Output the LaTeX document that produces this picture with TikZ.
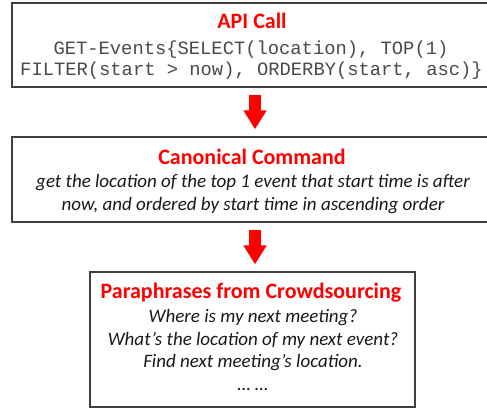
\documentclass[tikz,border=0pt]{standalone}
\usepackage{fontspec}
\setmainfont{Carlito}
\newfontfamily\codefont{Liberation Mono}
\usetikzlibrary{arrows.meta}

\definecolor{boxline}{HTML}{404040}
\definecolor{codegray}{HTML}{4A4A4A}

\tikzset{
  panel/.style={draw=boxline, line width=1.3pt, fill=white, inner sep=0pt},
  heading/.style={anchor=base, text=red, font=\fontsize{22}{25}\selectfont\bfseries, inner sep=0pt},
  codeline/.style={anchor=base, text=codegray, font=\codefont\fontsize{18.8}{22}\selectfont, inner sep=0pt},
  textline/.style={anchor=base, text=black!90, font=\fontsize{19}{22}\selectfont\itshape, inner sep=0pt},
  blockarrow/.style={draw=red, line width=12pt, -{Triangle[width=22pt,length=19pt]}}
}

\begin{document}
\begin{tikzpicture}[x=1pt,y=-1pt]
  \useasboundingbox (0,0) rectangle (487,408);

  % three stacked panels
  \node[panel, minimum width=476pt, minimum height=84pt] (b1) at (250,45) {};
  \node[panel, minimum width=476pt, minimum height=85pt] (b2) at (250,179.5) {};
  \node[panel, minimum width=325pt, minimum height=135pt] (b3) at (252.5,339.5) {};

  % API call
  \node[heading] (t1) at (252,28) {API Call};
  \node[codeline] (c1) at (251,54) {GET-Events\{SELECT(location), TOP(1)};
  \node[codeline] (c2) at (251.5,75) {FILTER(start > now), ORDERBY(start, asc)\}};

  % canonical command
  \node[heading] (t2) at (252,164) {Canonical Command};
  \node[textline] (l21) at (253,187) {get the location of the top 1 event that start time is after};
  \node[textline] (l22) at (253,210) {now, and ordered by start time in ascending order};

  % paraphrases
  \node[heading] (t3) at (251,298) {Paraphrases from Crowdsourcing};
  \node[textline] (l31) at (253,322) {Where is my next meeting?};
  \node[textline] (l32) at (253,345) {What’s the location of my next event?};
  \node[textline] (l33) at (253,367) {Find next meeting’s location.};
  \node[textline] (l34) at (253,390) {… …};

  % arrows between panels
  \coordinate (ax) at (255,0);
  \draw[blockarrow] ([yshift=-7pt]b1.south -| ax) -- ([yshift=7pt]b2.north -| ax);
  \draw[blockarrow] ([yshift=-7pt]b2.south -| ax) -- ([yshift=7pt]b3.north -| ax);
\end{tikzpicture}
\end{document}
